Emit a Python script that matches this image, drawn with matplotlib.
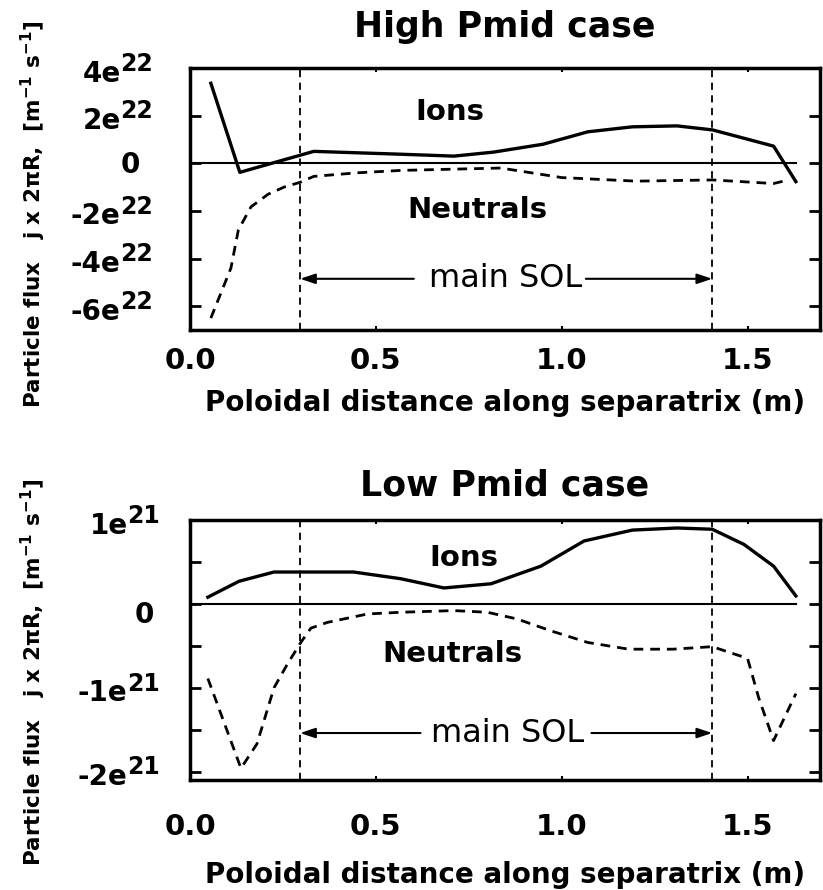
import numpy as np
import matplotlib.pyplot as plt

plt.rcParams['font.family'] = ['DejaVu Sans']
plt.rcParams['mathtext.fontset'] = 'dejavusans'

# ---- data (High Pmid case, units of 1e22) ----
high_ion_x = [0.056, 0.134, 0.333, 0.567, 0.71, 0.817, 0.95, 1.07, 1.19, 1.31, 1.406, 1.57, 1.63]
high_ion_y = [3.36, -0.38, 0.5, 0.38, 0.3, 0.47, 0.8, 1.32, 1.53, 1.57, 1.4, 0.72, -0.77]
high_neu_x = [0.056, 0.11, 0.13, 0.164, 0.21, 0.253, 0.296, 0.333, 0.45, 0.567, 0.836, 1.0, 1.2, 1.406, 1.57, 1.61]
high_neu_y = [-6.5, -4.4, -2.8, -1.83, -1.3, -1.0, -0.8, -0.55, -0.4, -0.3, -0.2, -0.6, -0.75, -0.7, -0.85, -0.7]
high_scale = 1e22

# ---- data (Low Pmid case, units of 1e21) ----
low_ion_x = [0.048, 0.132, 0.226, 0.298, 0.44, 0.567, 0.683, 0.81, 0.944, 1.06, 1.19, 1.31, 1.405, 1.49, 1.57, 1.63]
low_ion_y = [0.08, 0.27, 0.38, 0.38, 0.38, 0.30, 0.19, 0.24, 0.45, 0.75, 0.88, 0.905, 0.89, 0.71, 0.45, 0.095]
low_neu_x = [0.048, 0.137, 0.18, 0.226, 0.263, 0.298, 0.325, 0.37, 0.478, 0.567, 0.71, 0.80, 0.88, 0.97,
             1.07, 1.18, 1.30, 1.405, 1.50, 1.53, 1.57, 1.63]
low_neu_y = [-0.89, -1.96, -1.67, -1.0, -0.71, -0.46, -0.29, -0.22, -0.12, -0.10, -0.08, -0.10, -0.18, -0.32,
             -0.46, -0.54, -0.54, -0.51, -0.65, -1.12, -1.63, -1.07]
low_scale = 1e21

# main SOL boundaries
sol_start = 0.296
sol_end = 1.405
zero_end = 1.63

x_ticks = [0.0, 0.5, 1.0, 1.5]
x_ticklabels = ['0.0', '0.5', '1.0', '1.5']

high_yticks = [4, 2, 0, -2, -4, -6]
high_ylabels = [('4e', '22'), ('2e', '22'), ('0', ''), ('-2e', '22'), ('-4e', '22'), ('-6e', '22')]
low_yticks = [1, 0.5, 0, -0.5, -1, -1.5, -2]
low_ylabels = [('1e', '21'), None, ('0', ''), None, ('-1e', '21'), None, ('-2e', '21')]

ylabel_txt = 'Particle flux   j x 2\u03c0R,  [m$^{\\mathbf{-1}}$ s$^{\\mathbf{-1}}$]'
xlabel_txt = 'Poloidal distance along separatrix (m)'


def style_axes(ax, xpad):
    for s in ax.spines.values():
        s.set_linewidth(2.5)
    ax.set_xlim(0, 1.695)
    ax.set_xticks(x_ticks)
    ax.set_xticklabels(x_ticklabels, fontsize=21, fontweight='bold')
    ax.tick_params(axis='x', direction='in', top=True, length=3, width=1.5, pad=xpad)
    ax.tick_params(axis='y', direction='in', right=True, length=8, width=2, labelleft=False)


def draw_yticklabels(ax, ticks, labels, scale, base_dx, zero_dx, zero_dy):
    trans = ax.get_yaxis_transform()
    for t, lab in zip(ticks, labels):
        if lab is None:
            continue
        base, ex = lab
        if ex:
            ax.annotate(base, xy=(0, t * scale), xycoords=trans, xytext=(base_dx, -4),
                        textcoords='offset points', ha='right', va='center',
                        fontsize=20, fontweight='bold')
            ax.annotate(ex, xy=(0, t * scale), xycoords=trans, xytext=(base_dx, 3),
                        textcoords='offset points', ha='left', va='center',
                        fontsize=17, fontweight='bold')
        else:
            ax.annotate(base, xy=(0, t * scale), xycoords=trans, xytext=(zero_dx, zero_dy),
                        textcoords='offset points', ha='center', va='center',
                        fontsize=20, fontweight='bold')


def draw_panel(ax, ion_x, ion_y, neu_x, neu_y, scale):
    ax.plot([0, zero_end], [0, 0], color='black', lw=1.5)
    ax.plot(ion_x, np.array(ion_y) * scale, color='black', lw=2.4)
    ax.plot(neu_x, np.array(neu_y) * scale, color='black', lw=2.0, dashes=(3.5, 2.5))
    for xv in (sol_start, sol_end):
        ax.axvline(xv, color='black', lw=1.3, dashes=(4, 3))


def sol_arrows(ax, y, left_from, right_from, text_x):
    ax.text(text_x, y, 'main SOL', fontsize=23, ha='center', va='center')
    for x0, x1 in ((left_from, sol_start), (right_from, sol_end)):
        ax.annotate('', xy=(x1, y), xytext=(x0, y),
                    arrowprops=dict(arrowstyle='-|>,head_length=0.9,head_width=0.3', color='black',
                                    lw=1.5, shrinkA=0, shrinkB=0))


fig = plt.figure(figsize=(8.23, 8.90), dpi=100)
ax1 = fig.add_axes([0.2309, 0.6292, 0.7655, 0.2944])
ax2 = fig.add_axes([0.2309, 0.1236, 0.7655, 0.2921])

# ---- top panel ----
draw_panel(ax1, high_ion_x, high_ion_y, high_neu_x, high_neu_y, high_scale)
ax1.set_ylim(-7e22, 4e22)
ax1.set_yticks(np.array(high_yticks) * high_scale)
style_axes(ax1, 12)
draw_yticklabels(ax1, high_yticks, high_ylabels, high_scale, -50, -43, -1)
ax1.set_title('High Pmid case', fontsize=25, fontweight='bold', pad=22)
ax1.text(0.70, 2.17e22, 'Ions', fontsize=21, fontweight='bold', ha='center', va='center')
ax1.text(0.774, -1.96e22, 'Neutrals', fontsize=21, fontweight='bold', ha='center', va='center')
sol_arrows(ax1, -4.85e22, 0.602, 1.065, 0.848)
ax1.set_xlabel(xlabel_txt, fontsize=20, fontweight='bold')
ax1.xaxis.set_label_coords(0.5, -0.225)
ax1.set_ylabel(ylabel_txt, fontsize=15.5, fontweight='bold')
ax1.yaxis.set_label_coords(-0.225, 0.44)

# ---- bottom panel ----
draw_panel(ax2, low_ion_x, low_ion_y, low_neu_x, low_neu_y, low_scale)
ax2.set_ylim(-2.1e21, 1e21)
ax2.set_yticks(np.array(low_yticks) * low_scale)
style_axes(ax2, 24)
draw_yticklabels(ax2, low_yticks, low_ylabels, low_scale, -45, -33, -8)
ax2.set_title('Low Pmid case', fontsize=25, fontweight='bold', pad=18)
ax2.text(0.737, 0.55e21, 'Ions', fontsize=21, fontweight='bold', ha='center', va='center')
ax2.text(0.705, -0.6e21, 'Neutrals', fontsize=21, fontweight='bold', ha='center', va='center')
sol_arrows(ax2, -1.54e21, 0.62, 1.08, 0.855)
ax2.set_xlabel(xlabel_txt, fontsize=20, fontweight='bold')
ax2.xaxis.set_label_coords(0.5, -0.31)
ax2.set_ylabel(ylabel_txt, fontsize=15.5, fontweight='bold')
ax2.yaxis.set_label_coords(-0.225, 0.415)

fig.savefig('out.png', dpi=100)
